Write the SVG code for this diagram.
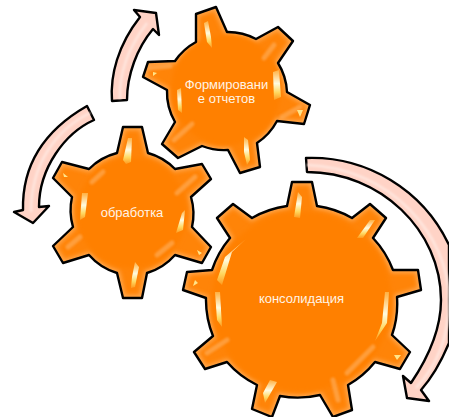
<svg xmlns="http://www.w3.org/2000/svg" width="449" height="417" viewBox="0 0 449 417">
<defs>
<style>
.body{fill:#ff8408}
.glow{fill:none;stroke:#ffa850;stroke-width:6;filter:url(#b2)}
.edge{fill:none;stroke:#000;stroke-width:2.4;stroke-linejoin:round}
.hub{fill:#ff8000;filter:url(#b2)}
.hl{fill:url(#shine);filter:url(#b05)}
.soft{fill:none;stroke:#ffa850;stroke-width:5;stroke-linecap:round;filter:url(#b1);opacity:.75}
.tip{fill:#ffe48a;filter:url(#b05)}
.arrow{fill:#ffd3c6;stroke:#000;stroke-width:2.4;stroke-linejoin:round}
.arrowline{fill:none;stroke:#ffe6de;stroke-width:2.5;filter:url(#b1)}
text{font-family:"Liberation Sans",Arial,sans-serif;font-size:13px;fill:#fff4e6;text-anchor:middle}
</style>
<filter id="b05" x="-50%" y="-50%" width="200%" height="200%"><feGaussianBlur stdDeviation="0.5"/></filter>
<filter id="b1" x="-50%" y="-50%" width="200%" height="200%"><feGaussianBlur stdDeviation="1"/></filter>
<filter id="b2" x="-20%" y="-20%" width="140%" height="140%"><feGaussianBlur stdDeviation="2"/></filter>
<linearGradient id="shine" x1="0" y1="0" x2="0" y2="1">
<stop offset="0" stop-color="#ffb040"/><stop offset="0.45" stop-color="#fffbe0"/><stop offset="0.75" stop-color="#ffd860"/><stop offset="1" stop-color="#ff9a20"/>
</linearGradient>
<path id="g1" d="M196 14L216 7L227 32A60 60 0 0 1 256 39L278 27L293 41L278 63A60 60 0 0 1 287 92L310 105L304 124L277 121A60 60 0 0 1 257 143L260 167L240 173L228 150A60 60 0 0 1 202 146L178 158L162 144L175 122A60 60 0 0 1 167 90L143 77L148 62L175 61A60 60 0 0 1 196 42Z"/>
<path id="g2" d="M123 127H142L148 153A60 60 0 0 1 175 169L202 164L211 179L191 197A60 60 0 0 1 192 227L211 247L202 263L175 255A60 60 0 0 1 147 273L142 298H123L117 273A60 60 0 0 1 89 255L63 263L53 246L73 227A60 60 0 0 1 72 197L53 178L62 162L89 169A60 60 0 0 1 117 153Z"/>
<path id="g3" d="M292 182H312L317 206A96 96 0 0 1 352 218L370 204L386 218L373 238A96 96 0 0 1 393 270L418 270L421 290L397 297A96 96 0 0 1 392 335L410 352L400 369L375 362A96 96 0 0 1 348 385L352 410L333 417L320 395A96 96 0 0 1 280 396L272 417L252 409L257 385A96 96 0 0 1 227 362L205 369L194 352L213 336A96 96 0 0 1 206 298L183 290L187 272L212 270A96 96 0 0 1 230 238L217 218L233 204L252 218A96 96 0 0 1 287 206Z"/>
<clipPath id="c1"><use href="#g1"/></clipPath>
<clipPath id="c2"><use href="#g2"/></clipPath>
<clipPath id="c3"><use href="#g3"/></clipPath>
</defs>
<rect width="449" height="417" fill="#fff"/>
<g id="connectors">
<path class="arrow" d="M306 158A152 152 0 0 1 449 245L449 343Q437 372 421 390L429 401L407 398L403 376L411 383C432 352 441 325 441 300C441 230 380 172 307 172Z"/>
<path class="arrowline" d="M307 165C390 168 449 235 449 300C449 340 435 368 416 388"/>
<path class="arrow" d="M112 101C110 75 118 45 140 17L134 10L156 13L159 35L153 29C137 48 127 75 127 100Z"/>
<path class="arrowline" d="M120 99C119 75 128 48 147 23"/>
<path class="arrow" d="M87 106L94 120C65 133 39 168 39 207L49 206L33 223L14 212L23 210C22 165 45 130 87 106Z"/>
<path class="arrowline" d="M90 113C55 130 31 165 31 212"/>
</g>
<g id="gear-formirovanie">
<use href="#g1" class="body"/>
<g clip-path="url(#c1)"><use href="#g1" class="glow"/>
<circle cx="226" cy="90" r="55" class="hub"/>
<path class="soft" d="M274 45L264 58M300 107L282 117M192 124L174 140M150 68L170 66"/>
<path class="hl" d="M204 23L208 21L211 37L212 48L207 42Z"/>
<path class="hl" d="M273 72L279 70L281 97L274 100Z"/>
<path class="hl" d="M244 137L248 140L250 160L247 165L244 152Z"/>
<path class="hl" d="M177 90L181 88L182 113L178 110Z"/>
<path class="tip" d="M297 110L303 110L300 117ZM153 72L157 73L153 76Z"/>
</g>
<use href="#g1" class="edge"/>
<text x="226.5" y="89">Формировани</text>
<text x="226.5" y="103">е отчетов</text>
</g>
<g id="gear-obrabotka">
<use href="#g2" class="body"/>
<g clip-path="url(#c2)"><use href="#g2" class="glow"/>
<circle cx="132" cy="213" r="55" class="hub"/>
<path class="soft" d="M92 182L103 172M157 255L172 243M68 247L80 237M195 177L177 193"/>
<path class="hl" d="M128 138L132 138L131 162L126 164L123 160Z"/>
<path class="hl" d="M135 262L139 267L135 287L131 288L132 277Z"/>
<path class="hl" d="M82 193L88 193L85 217L80 220Z"/>
<path class="hl" d="M182 213L185 210L183 230L176 233Z"/>
<path class="tip" d="M63 173L68 177L64 177ZM197 250L202 253L199 255Z"/>
</g>
<use href="#g2" class="edge"/>
<text x="132" y="217">обработка</text>
</g>
<g id="gear-konsolidatsiya">
<use href="#g3" class="body"/>
<g clip-path="url(#c3)"><use href="#g3" class="glow"/>
<circle cx="301.5" cy="301.5" r="90" class="hub"/>
<path class="soft" d="M373 347L347 373M333 380L338 400M207 353L227 340"/>
<path class="hl" d="M298 192L302 197L300 218L294 217Z"/>
<path class="hl" d="M370 220L375 220L363 238L357 238Z"/>
<path class="hl" d="M385 292L389 292L387 323L375 341L382 323Z"/>
<path class="hl" d="M270 380L277 382L265 403L263 393Z"/>
<path class="hl" d="M246 239L232 252L222 285L217 280L225 257Z"/>
<path class="hl" d="M215 292L220 292L222 327L217 320Z"/>
<path class="tip" d="M195 280L198 283L193 286ZM394 355L401 355L397 360Z"/>
</g>
<use href="#g3" class="edge"/>
<text x="301.5" y="303">консолидация</text>
</g>
</svg>
